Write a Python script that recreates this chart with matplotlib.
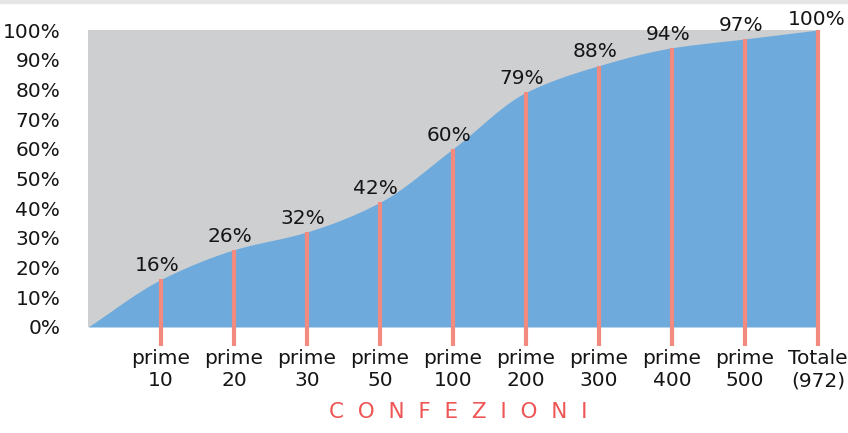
import numpy as np
import matplotlib
matplotlib.use("Agg")
import matplotlib.pyplot as plt
from matplotlib.lines import Line2D

# Cumulative share of total by pack ranking
categories_top = ["prime", "prime", "prime", "prime", "prime", "prime", "prime", "prime", "prime", "Totale"]
categories_bottom = ["10", "20", "30", "50", "100", "200", "300", "400", "500", "(972)"]
values = [16, 26, 32, 42, 60, 79, 88, 94, 97, 100]
y_ticks = [0, 10, 20, 30, 40, 50, 60, 70, 80, 90, 100]

BLUE = "#6eaadc"
GRAY = "#cdcfd1"
SALMON = "#f28a80"
RED = "#ee5555"
INK = "#151515"


def monotone_spline(xk, yk, n=400):
    """Fritsch-Carlson monotone cubic through the given knots."""
    xk = np.asarray(xk, float)
    yk = np.asarray(yk, float)
    h = np.diff(xk)
    d = np.diff(yk) / h
    m = np.zeros_like(yk)
    m[0] = d[0]
    m[-1] = d[-1]
    for i in range(1, len(yk) - 1):
        if d[i - 1] * d[i] <= 0:
            m[i] = 0
        else:
            w1 = 2 * h[i] + h[i - 1]
            w2 = h[i] + 2 * h[i - 1]
            m[i] = (w1 + w2) / (w1 / d[i - 1] + w2 / d[i])
    xs = np.linspace(xk[0], xk[-1], n)
    idx = np.clip(np.searchsorted(xk, xs) - 1, 0, len(h) - 1)
    t = (xs - xk[idx]) / h[idx]
    h00 = 2 * t**3 - 3 * t**2 + 1
    h10 = t**3 - 2 * t**2 + t
    h01 = -2 * t**3 + 3 * t**2
    h11 = t**3 - t**2
    ys = (h00 * yk[idx] + h10 * h[idx] * m[idx]
          + h01 * yk[idx + 1] + h11 * h[idx] * m[idx + 1])
    return xs, ys


plt.rcParams["font.family"] = ["DejaVu Sans"]

fig = plt.figure(figsize=(8.48, 4.33), dpi=100)
fig.patch.set_facecolor("white")
ax = fig.add_axes([88 / 848, (433 - 327) / 433, (818 - 88) / 848, (327 - 30) / 433])

n = len(values)
xpos = np.arange(1, n + 1)
knots_x = np.concatenate([[0], xpos])
knots_y = np.concatenate([[0], values])
xs, ys = monotone_spline(knots_x, knots_y)

ax.fill_between([0, n], 0, 100, color=GRAY, lw=0, zorder=1)
ax.fill_between(xs, 0, ys, color=BLUE, lw=0, zorder=2)

for x, v in zip(xpos, values):
    ax.plot([x, x], [-6.5, v], color=SALMON, lw=3, solid_capstyle="butt",
            clip_on=False, zorder=3)
    ax.annotate(f"{v}%", (x, v), xytext=(-3 if v < 100 else -1, 3 if v < 100 else 1),
                textcoords="offset points", ha="center", va="bottom",
                fontsize=14.5, color=INK, zorder=4, annotation_clip=False)

ax.set_xlim(0, n)
ax.set_ylim(0, 100)
ax.set_yticks(y_ticks)
ax.set_yticklabels([f"{t}%" for t in y_ticks], fontsize=14.5, color=INK)
ax.tick_params(axis="y", length=0, pad=20)
ax.set_xticks(xpos)
ax.set_xticklabels([f"{a}\n{b}" for a, b in zip(categories_top, categories_bottom)],
                   fontsize=14.5, color=INK, linespacing=1.2)
ax.tick_params(axis="x", length=0, pad=16)
for s in ax.spines.values():
    s.set_visible(False)

fig.text(458 / 848, 1 - 412 / 433, "C  O  N  F  E  Z  I  O  N  I", ha="center",
         va="center", fontsize=15.5, color=RED)

# thin grey rule across the top edge
fig.add_artist(Line2D([0, 1], [1 - 1.5 / 433] * 2, color="#e6e6e6", lw=3,
                      transform=fig.transFigure))

fig.savefig("out.png", dpi=100, facecolor="white")
